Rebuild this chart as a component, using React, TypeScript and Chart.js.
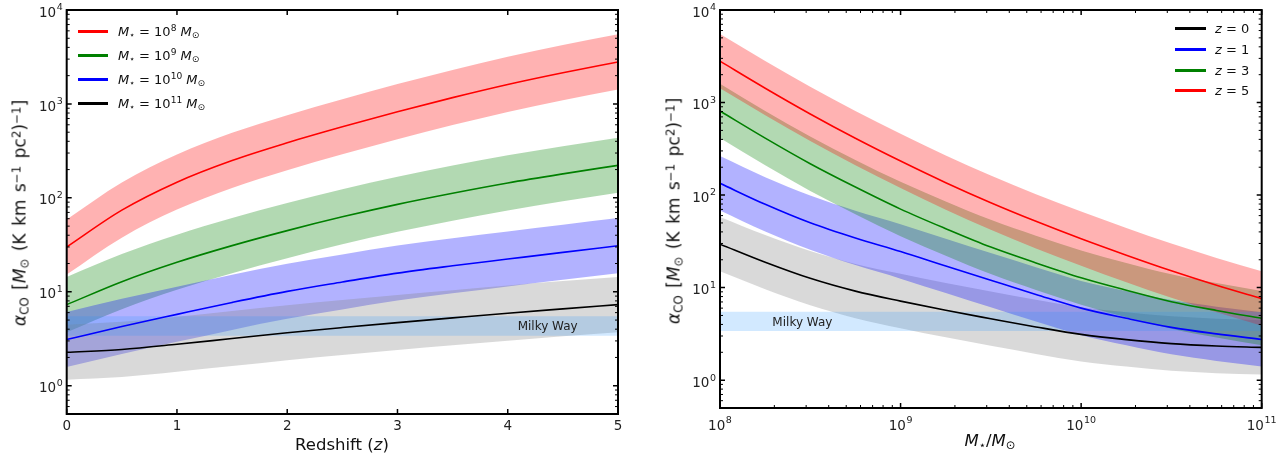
import React, { useEffect, useRef } from "react";
import { Chart, registerables } from "chart.js";

Chart.register(...registerables);

const FONT = "'DejaVu Sans', sans-serif";
const TRANSPARENT = "rgba(0,0,0,0)";

// ---------------- Left panel: alpha_CO vs redshift ----------------
const leftRedshift = [0, 0.5, 1, 1.5, 2, 2.5, 3, 3.5, 4, 4.5, 5];
// M* = 1e8
const leftM8 = [30, 74, 147, 250, 386, 571, 826, 1167, 1611, 2148, 2800];
const leftM8Hi = [59, 146, 290, 493, 760, 1125, 1627, 2300, 3174, 4232, 5516];
const leftM8Lo = [15.3, 37.7, 75, 127.5, 197, 291, 421, 595, 822, 1095, 1428];
// M* = 1e9
const leftM9 = [7.3, 12.8, 20.6, 31, 44.8, 62.8, 85.3, 112, 144, 180, 222];
const leftM9Hi = [14.4, 25.2, 40.6, 61.1, 88.3, 123.7, 168, 220.6, 283.7, 354.6, 437.3];
const leftM9Lo = [3.72, 6.53, 10.5, 15.8, 22.8, 32.0, 43.5, 57.1, 73.4, 91.8, 113.2];
// M* = 1e10
const leftM10 = [3.1, 4.27, 5.75, 7.7, 10.1, 12.7, 15.8, 18.9, 22.3, 26.3, 30.9];
const leftM10Hi = [6.1, 8.41, 11.3, 15.2, 19.9, 25.0, 31.1, 37.2, 43.9, 51.8, 60.9];
const leftM10Lo = [1.58, 2.18, 2.93, 3.93, 5.15, 6.48, 8.06, 9.64, 11.4, 13.4, 15.8];
// M* = 1e11
const leftM11 = [2.27, 2.43, 2.76, 3.18, 3.66, 4.16, 4.7, 5.28, 5.92, 6.58, 7.3];
const leftM11Hi = [4.47, 4.79, 5.44, 6.26, 7.21, 8.2, 9.26, 10.4, 11.7, 13.0, 14.4];
const leftM11Lo = [1.16, 1.24, 1.41, 1.62, 1.87, 2.12, 2.4, 2.69, 3.02, 3.36, 3.72];
const leftSeriesExp = ["8", "9", "10", "11"];
const leftSeriesColors = ["#ff0000", "#008000", "#0000ff", "#000000"];
const leftBandColors = [
  "rgba(255,0,0,0.3)",
  "rgba(0,128,0,0.3)",
  "rgba(0,0,255,0.3)",
  "rgba(128,128,128,0.3)",
];
const leftXTicks = [0, 1, 2, 3, 4, 5];
const leftXTickLabels = ["0", "1", "2", "3", "4", "5"];

// ---------------- Right panel: alpha_CO vs stellar mass ----------------
const rightMass = [1e8, 1.78e8, 3.16e8, 5.62e8, 1e9, 1.78e9, 3.16e9, 5.62e9, 1e10, 1.78e10, 3.16e10, 5.62e10, 1e11];
// z = 0
const rightZ0 = [29.5, 18.8, 12.6, 9.16, 7.14, 5.68, 4.61, 3.76, 3.12, 2.74, 2.48, 2.34, 2.26];
const rightZ0Hi = [58.1, 37.0, 24.8, 18.0, 14.1, 11.2, 9.08, 7.41, 6.15, 5.4, 4.89, 4.61, 4.45];
const rightZ0Lo = [15.0, 9.59, 6.43, 4.67, 3.64, 2.9, 2.35, 1.92, 1.59, 1.4, 1.26, 1.19, 1.15];
// z = 1
const rightZ1 = [134, 79.4, 50.1, 34.3, 24.5, 17.1, 12.0, 8.43, 6.0, 4.66, 3.72, 3.16, 2.75];
const rightZ1Hi = [264, 156, 98.7, 67.6, 48.3, 33.7, 23.6, 16.6, 11.8, 9.18, 7.33, 6.23, 5.42];
const rightZ1Lo = [68.3, 40.5, 25.6, 17.5, 12.5, 8.72, 6.12, 4.3, 3.06, 2.38, 1.9, 1.61, 1.4];
// z = 3
const rightZ3 = [809, 412, 218, 122, 70.5, 43.3, 27.4, 18.5, 12.8, 9.38, 7.05, 5.66, 4.66];
const rightZ3Hi = [1594, 812, 429, 240, 139, 85.3, 54.0, 36.4, 25.2, 18.5, 13.9, 11.2, 9.18];
const rightZ3Lo = [413, 210, 111, 62.2, 36.0, 22.1, 14.0, 9.44, 6.53, 4.78, 3.6, 2.89, 2.38];
// z = 5
const rightZ5 = [2800, 1429, 753, 411, 233, 136, 82.6, 52.0, 33.7, 22.4, 15.2, 10.6, 7.6];
const rightZ5Hi = [5516, 2815, 1483, 810, 459, 268, 163, 102, 66.4, 44.1, 29.9, 20.9, 15.0];
const rightZ5Lo = [1428, 729, 384, 210, 119, 69.4, 42.1, 26.5, 17.2, 11.4, 7.75, 5.41, 3.88];
const rightSeriesZ = ["0", "1", "3", "5"];
const rightSeriesColors = ["#000000", "#0000ff", "#008000", "#ff0000"];
const rightBandColors = [
  "rgba(128,128,128,0.3)",
  "rgba(0,0,255,0.3)",
  "rgba(0,128,0,0.3)",
  "rgba(255,0,0,0.3)",
];
const rightXTicks = [1e8, 1e9, 1e10, 1e11];
const rightXTickExp = ["8", "9", "10", "11"];

// ---------------- Shared ----------------
const yTicks = [1, 10, 100, 1000, 10000];
const yTickExp = ["0", "1", "2", "3", "4"];
const milkyWayRange = [3.4, 5.5]; // lower, upper
const mwColor = "rgba(30,144,255,0.2)";

function minorLog(lo: number, hi: number): number[] {
  const out: number[] = [];
  for (let d = Math.floor(Math.log10(lo)); d <= Math.ceil(Math.log10(hi)); d++) {
    for (let k = 2; k <= 9; k++) {
      const v = k * Math.pow(10, d);
      if (v >= lo * 0.999 && v <= hi * 1.001) out.push(v);
    }
  }
  return out;
}
const yMinor = [0.5, 0.6, 0.7, 0.8, 0.9, ...minorLog(1, 10000)];

function pts(xs: number[], ys: number[]) {
  return xs.map((x, i) => ({ x, y: ys[i] }));
}

function band(xs: number[], hi: number[], lo: number[], fill: string, order: number) {
  const common = {
    borderColor: TRANSPARENT,
    borderWidth: 0,
    pointRadius: 0,
    pointHoverRadius: 0,
    cubicInterpolationMode: "monotone" as const,
    order,
  };
  return [
    { ...common, label: "", data: pts(xs, hi), fill: "+1", backgroundColor: fill },
    { ...common, label: "", data: pts(xs, lo), fill: false },
  ];
}

function curve(xs: number[], ys: number[], color: string, label: string) {
  return {
    label,
    data: pts(xs, ys),
    borderColor: color,
    backgroundColor: color,
    borderWidth: 1.6,
    pointRadius: 0,
    pointHoverRadius: 0,
    fill: false,
    cubicInterpolationMode: "monotone" as const,
    order: 0,
  };
}

const BASE_PX = 13.5;
const EXP_PX = 9.5;

function drawPow(ctx: CanvasRenderingContext2D, exp: string, x: number, baseline: number, align: "right" | "center") {
  ctx.font = `${BASE_PX}px ${FONT}`;
  const wb = ctx.measureText("10").width;
  ctx.font = `${EXP_PX}px ${FONT}`;
  const we = ctx.measureText(exp).width;
  const gap = 0.6;
  const total = wb + gap + we;
  const x0 = align === "right" ? x - total : x - total / 2;
  ctx.textAlign = "left";
  ctx.textBaseline = "alphabetic";
  ctx.font = `${BASE_PX}px ${FONT}`;
  ctx.fillText("10", x0, baseline);
  ctx.font = `${EXP_PX}px ${FONT}`;
  ctx.fillText(exp, x0 + wb + gap, baseline - 6.2);
}

function framePlugin(cfg: {
  xMajor: number[];
  xMinor: number[];
  xPowExp?: string[];
  mwLabel: { x: number; y: number };
}) {
  return {
    id: "frame",
    afterDraw(chart: any) {
      const { ctx, chartArea: a, scales } = chart;
      const xs = scales.x;
      const ys = scales.y;
      ctx.save();
      ctx.strokeStyle = "#000";
      const drawX = (vals: number[], len: number, w: number) => {
        ctx.lineWidth = w;
        ctx.beginPath();
        vals.forEach((v) => {
          const px = xs.getPixelForValue(v);
          ctx.moveTo(px, a.bottom);
          ctx.lineTo(px, a.bottom - len);
          ctx.moveTo(px, a.top);
          ctx.lineTo(px, a.top + len);
        });
        ctx.stroke();
      };
      const drawY = (vals: number[], len: number, w: number) => {
        ctx.lineWidth = w;
        ctx.beginPath();
        vals.forEach((v) => {
          const py = ys.getPixelForValue(v);
          ctx.moveTo(a.left, py);
          ctx.lineTo(a.left + len, py);
          ctx.moveTo(a.right, py);
          ctx.lineTo(a.right - len, py);
        });
        ctx.stroke();
      };
      drawX(cfg.xMajor, 5, 1.5);
      drawX(cfg.xMinor, 3, 1);
      drawY(yTicks, 5, 1.5);
      drawY(yMinor, 3, 1);
      ctx.lineWidth = 2;
      ctx.strokeRect(a.left, a.top, a.right - a.left, a.bottom - a.top);

      // power-of-ten tick labels
      ctx.fillStyle = "#222";
      yTicks.forEach((v, i) => {
        const py = ys.getPixelForValue(v);
        drawPow(ctx, yTickExp[i], a.left - 4, py + 6.6, "right");
      });
      if (cfg.xPowExp) {
        cfg.xMajor.forEach((v, i) => {
          const px = xs.getPixelForValue(v);
          drawPow(ctx, cfg.xPowExp![i], px, a.bottom + 21.5, "center");
        });
      }

      ctx.font = `12px ${FONT}`;
      ctx.fillStyle = "#222";
      ctx.textAlign = "left";
      ctx.textBaseline = "middle";
      ctx.fillText("Milky Way", xs.getPixelForValue(cfg.mwLabel.x), ys.getPixelForValue(cfg.mwLabel.y));
      ctx.restore();
    },
  };
}

function makeOptions(o: {
  xType: "linear" | "logarithmic";
  xMin: number;
  xMax: number;
  xTicks: number[];
  xTickLabels: string[] | null;
  yWidth: number;
  xHeight: number;
  padRight: number;
}) {
  const tickFont = { family: FONT, size: BASE_PX };
  return {
    responsive: false,
    animation: false as const,
    events: [] as any[],
    layout: { padding: { top: 10, right: o.padRight, left: 0, bottom: 0 } },
    plugins: { legend: { display: false }, tooltip: { enabled: false } },
    scales: {
      x: {
        type: o.xType,
        min: o.xMin,
        max: o.xMax,
        grid: { display: false, drawTicks: false },
        border: { display: false },
        afterBuildTicks: (s: any) => {
          s.ticks = o.xTicks.map((v) => ({ value: v }));
        },
        afterFit: (s: any) => {
          s.height = o.xHeight;
        },
        ticks: {
          display: !!o.xTickLabels,
          autoSkip: false,
          maxRotation: 0,
          minRotation: 0,
          padding: 4,
          color: "#222",
          font: tickFont,
          callback: (_v: any, i: number) => (o.xTickLabels ? o.xTickLabels[i] : ""),
        },
      },
      y: {
        type: "logarithmic" as const,
        min: 0.5,
        max: 10000,
        grid: { display: false, drawTicks: false },
        border: { display: false },
        afterBuildTicks: (s: any) => {
          s.ticks = yTicks.map((v) => ({ value: v }));
        },
        afterFit: (s: any) => {
          s.width = o.yWidth;
        },
        ticks: { display: false },
      },
    },
  };
}

const Sub = ({ children }: { children: React.ReactNode }) => (
  <span style={{ fontSize: "0.7em", verticalAlign: "-0.25em", lineHeight: 0 }}>{children}</span>
);
const Sup = ({ children }: { children: React.ReactNode }) => (
  <span style={{ fontSize: "0.7em", verticalAlign: "0.45em", lineHeight: 0 }}>{children}</span>
);

const YTitle = () => (
  <>
    <i>α</i>
    <Sub>CO</Sub> [<i>M</i>
    <Sub>⊙</Sub> (K km s<Sup>−1</Sup> pc<Sup>2</Sup>)<Sup>−1</Sup>]
  </>
);

export default function App() {
  const leftRef = useRef<HTMLCanvasElement>(null);
  const rightRef = useRef<HTMLCanvasElement>(null);

  useEffect(() => {
    const leftData = [
      [leftM8, leftM8Hi, leftM8Lo],
      [leftM9, leftM9Hi, leftM9Lo],
      [leftM10, leftM10Hi, leftM10Lo],
      [leftM11, leftM11Hi, leftM11Lo],
    ];
    const leftSets: any[] = [];
    leftData.forEach((s, i) => {
      leftSets.push(...band(leftRedshift, s[1], s[2], leftBandColors[i], 5 - i));
    });
    leftSets.push(...band([0, 5], [milkyWayRange[1], milkyWayRange[1]], [milkyWayRange[0], milkyWayRange[0]], mwColor, 1));
    leftData.forEach((s, i) => {
      leftSets.push(curve(leftRedshift, s[0], leftSeriesColors[i], `M* = 1e${leftSeriesExp[i]} Msun`));
    });

    const rightData = [
      [rightZ0, rightZ0Hi, rightZ0Lo],
      [rightZ1, rightZ1Hi, rightZ1Lo],
      [rightZ3, rightZ3Hi, rightZ3Lo],
      [rightZ5, rightZ5Hi, rightZ5Lo],
    ];
    const rightSets: any[] = [];
    rightData.forEach((s, i) => {
      rightSets.push(...band(rightMass, s[1], s[2], rightBandColors[i], 5 - i));
    });
    rightSets.push(...band([1e8, 1e11], [milkyWayRange[1], milkyWayRange[1]], [milkyWayRange[0], milkyWayRange[0]], mwColor, 1));
    rightData.forEach((s, i) => {
      rightSets.push(curve(rightMass, s[0], rightSeriesColors[i], `z = ${rightSeriesZ[i]}`));
    });

    const c1 = new Chart(leftRef.current!, {
      type: "line",
      data: { datasets: leftSets },
      options: makeOptions({
        xType: "linear",
        xMin: 0,
        xMax: 5,
        xTicks: leftXTicks,
        xTickLabels: leftXTickLabels,
        yWidth: 66.7,
        xHeight: 46,
        padRight: 22,
      }) as any,
      plugins: [framePlugin({ xMajor: leftXTicks, xMinor: [], mwLabel: { x: 4.09, y: 4.2 } })],
    });
    const c2 = new Chart(rightRef.current!, {
      type: "line",
      data: { datasets: rightSets },
      options: makeOptions({
        xType: "logarithmic",
        xMin: 1e8,
        xMax: 1e11,
        xTicks: rightXTicks,
        xTickLabels: null,
        yWidth: 80,
        xHeight: 52,
        padRight: 25.3,
      }) as any,
      plugins: [
        framePlugin({
          xMajor: rightXTicks,
          xMinor: minorLog(1e8, 1e11),
          xPowExp: rightXTickExp,
          mwLabel: { x: 1.95e8, y: 4.2 },
        }),
      ],
    });
    return () => {
      c1.destroy();
      c2.destroy();
    };
  }, []);

  const textBase: React.CSSProperties = {
    position: "absolute",
    fontFamily: FONT,
    whiteSpace: "nowrap",
    color: "#111",
    lineHeight: 1,
  };

  return (
    <div style={{ position: "absolute", left: 0, top: 0, width: 1287, height: 460, background: "#fff", overflow: "hidden" }}>
      <canvas ref={leftRef} width={640} height={460} style={{ position: "absolute", left: 0, top: 0 }} />
      <canvas ref={rightRef} width={647} height={460} style={{ position: "absolute", left: 640, top: 0 }} />

      {/* axis titles */}
      <div style={{ ...textBase, fontSize: 17, wordSpacing: 2, left: 20, top: 213, transform: "translate(-50%,-50%) rotate(-90deg)" }}>
        <YTitle />
      </div>
      <div style={{ ...textBase, fontSize: 17, wordSpacing: 2, left: 674, top: 211, transform: "translate(-50%,-50%) rotate(-90deg)" }}>
        <YTitle />
      </div>
      <div style={{ ...textBase, fontSize: 16.5, left: 342, top: 445, transform: "translate(-50%,-50%)" }}>
        Redshift (<i>z</i>)
      </div>
      <div style={{ ...textBase, fontSize: 16.5, left: 990, top: 441, transform: "translate(-50%,-50%)" }}>
        <i>M</i>
        <Sub>⋆</Sub>/<i>M</i>
        <Sub>⊙</Sub>
      </div>

      {/* left legend */}
      {leftSeriesExp.map((e, i) => {
        const y = Math.round(31 + i * 23.9);
        return (
          <React.Fragment key={"l" + i}>
            <div style={{ position: "absolute", left: 78, top: y - 1, width: 30, height: 2.5, background: leftSeriesColors[i] }} />
            <div style={{ ...textBase, fontSize: 13, left: 118, top: y, transform: "translateY(-50%)" }}>
              <i>M</i>
              <Sub>⋆</Sub> = 10<Sup>{e}</Sup> <i>M</i>
              <Sub>⊙</Sub>
            </div>
          </React.Fragment>
        );
      })}

      {/* right legend */}
      {rightSeriesZ.map((z, i) => {
        const y = Math.round(28.3 + i * 20.6);
        return (
          <React.Fragment key={"r" + i}>
            <div style={{ position: "absolute", left: 1175, top: y - 1, width: 31, height: 2.5, background: rightSeriesColors[i] }} />
            <div style={{ ...textBase, fontSize: 13, left: 1215, top: y, transform: "translateY(-50%)" }}>
              <i>z</i> = {z}
            </div>
          </React.Fragment>
        );
      })}
    </div>
  );
}
